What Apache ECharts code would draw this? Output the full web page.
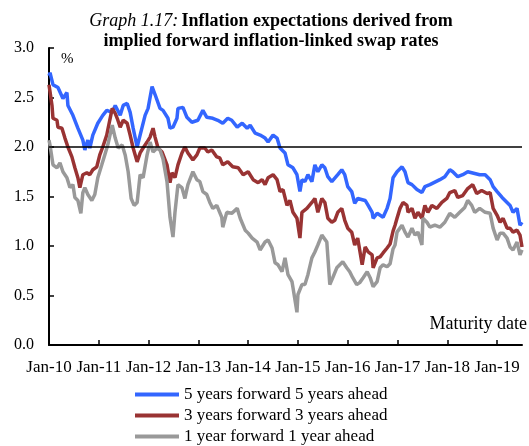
<!DOCTYPE html>
<html>
<head>
<meta charset="utf-8">
<script src="https://cdn.jsdelivr.net/npm/echarts@6/dist/echarts.min.js"></script>
<style>
  html, body { margin: 0; padding: 0; background: #fff; }
  #chart { width: 529px; height: 446px; }
</style>
</head>
<body>
<div id="chart"></div>
<script>
// maturity dates as decimal years, values in %
const blueYears = [2010.00, 2010.02, 2010.08, 2010.18, 2010.28, 2010.36, 2010.38, 2010.48, 2010.58, 2010.68, 2010.72, 2010.78, 2010.82, 2010.88, 2010.98,
  2011.08, 2011.16, 2011.27, 2011.33, 2011.43, 2011.49, 2011.57, 2011.63, 2011.69, 2011.77, 2011.83, 2011.93, 2011.99,
  2012.07, 2012.13, 2012.23, 2012.29, 2012.39, 2012.43, 2012.49, 2012.57, 2012.59, 2012.69, 2012.77, 2012.87, 2012.99,
  2013.09, 2013.17, 2013.29, 2013.39, 2013.49, 2013.59, 2013.67, 2013.78, 2013.88, 2013.98,
  2014.04, 2014.14, 2014.24, 2014.34, 2014.40, 2014.50, 2014.58, 2014.64, 2014.74, 2014.80, 2014.90, 2014.98,
  2015.04, 2015.08, 2015.14, 2015.20, 2015.28, 2015.34, 2015.40, 2015.48, 2015.54, 2015.60, 2015.68, 2015.80, 2015.88, 2015.94,
  2016.00, 2016.08, 2016.14, 2016.20, 2016.35, 2016.41, 2016.49, 2016.51, 2016.59, 2016.71, 2016.79, 2016.85, 2016.91, 2016.99,
  2017.09, 2017.15, 2017.21, 2017.29, 2017.39, 2017.49, 2017.55, 2017.65, 2017.85, 2017.95,
  2018.05, 2018.11, 2018.21, 2018.31, 2018.41, 2018.65, 2018.76, 2018.86, 2018.92,
  2019.00, 2019.10, 2019.20, 2019.26, 2019.32, 2019.40, 2019.46, 2019.50];
const blueValues = [2.72, 2.75, 2.63, 2.60, 2.49, 2.55, 2.42, 2.32, 2.19, 2.07, 1.97, 2.07, 1.99, 2.12, 2.24,
  2.32, 2.37, 2.35, 2.42, 2.32, 2.42, 2.44, 2.35, 2.19, 2.00, 2.12, 2.32, 2.39,
  2.61, 2.53, 2.39, 2.37, 2.29, 2.19, 2.20, 2.29, 2.39, 2.40, 2.30, 2.25, 2.27,
  2.37, 2.30, 2.29, 2.27, 2.24, 2.29, 2.27, 2.20, 2.24, 2.19,
  2.22, 2.14, 2.12, 2.09, 2.05, 2.12, 2.09, 1.99, 1.94, 1.82, 1.79, 1.72,
  1.55, 1.67, 1.65, 1.72, 1.65, 1.82, 1.75, 1.82, 1.79, 1.70, 1.65, 1.72, 1.77, 1.72,
  1.60, 1.55, 1.43, 1.48, 1.46, 1.41, 1.34, 1.28, 1.33, 1.29, 1.38, 1.48, 1.69, 1.75,
  1.80, 1.75, 1.64, 1.62, 1.57, 1.54, 1.60, 1.62, 1.67, 1.70,
  1.77, 1.75, 1.70, 1.72, 1.75, 1.72, 1.72, 1.67, 1.60,
  1.55, 1.49, 1.44, 1.41, 1.34, 1.38, 1.21, 1.24];

const redYears = [2010.00, 2010.02, 2010.06, 2010.08, 2010.16, 2010.18, 2010.26, 2010.32, 2010.38, 2010.46, 2010.52, 2010.58, 2010.62, 2010.68, 2010.76, 2010.82, 2010.88, 2010.96,
  2011.02, 2011.08, 2011.16, 2011.22, 2011.27, 2011.33, 2011.37, 2011.43, 2011.49, 2011.57, 2011.63, 2011.69, 2011.77, 2011.83, 2011.89, 2011.97,
  2012.03, 2012.09, 2012.13, 2012.19, 2012.27, 2012.29, 2012.37, 2012.43, 2012.47, 2012.53, 2012.59, 2012.67, 2012.73, 2012.79, 2012.89, 2012.97,
  2013.03, 2013.13, 2013.19, 2013.27, 2013.37, 2013.43, 2013.49, 2013.59, 2013.69, 2013.80, 2013.90,
  2014.00, 2014.10, 2014.20, 2014.28, 2014.34, 2014.40, 2014.50, 2014.58, 2014.64, 2014.70, 2014.78, 2014.84, 2014.90, 2014.98,
  2015.04, 2015.08, 2015.18, 2015.28, 2015.34, 2015.40, 2015.48, 2015.54, 2015.60, 2015.68, 2015.74, 2015.80, 2015.88, 2015.94,
  2016.00, 2016.08, 2016.14, 2016.20, 2016.29, 2016.35, 2016.41, 2016.49, 2016.51, 2016.59, 2016.65, 2016.71, 2016.79, 2016.85, 2016.91, 2016.95, 2016.99,
  2017.05, 2017.11, 2017.19, 2017.21, 2017.29, 2017.35, 2017.41, 2017.49, 2017.55, 2017.61, 2017.69, 2017.79, 2017.89, 2017.99,
  2018.05, 2018.15, 2018.21, 2018.31, 2018.41, 2018.51, 2018.59, 2018.69, 2018.80, 2018.86, 2018.92,
  2019.00, 2019.06, 2019.12, 2019.20, 2019.26, 2019.32, 2019.40, 2019.46, 2019.50];
const redValues = [2.63, 2.56, 2.42, 2.29, 2.27, 2.20, 2.19, 2.09, 2.00, 1.90, 1.79, 1.69, 1.59, 1.72, 1.74, 1.72, 1.77, 1.80,
  1.92, 2.00, 2.12, 2.27, 2.39, 2.34, 2.29, 2.20, 2.27, 2.24, 2.12, 1.99, 1.85, 1.94, 1.99, 2.05,
  2.10, 2.19, 2.10, 1.99, 1.95, 1.94, 1.82, 1.64, 1.74, 1.69, 1.82, 1.94, 2.00, 1.94, 1.87, 1.92,
  1.99, 1.99, 1.95, 1.97, 1.90, 1.89, 1.82, 1.85, 1.80, 1.79, 1.72,
  1.75, 1.67, 1.64, 1.67, 1.62, 1.69, 1.72, 1.67, 1.55, 1.57, 1.41, 1.46, 1.34, 1.28,
  1.08, 1.34, 1.38, 1.44, 1.48, 1.34, 1.48, 1.44, 1.28, 1.24, 1.26, 1.34, 1.38, 1.26,
  1.18, 1.14, 1.01, 1.08, 0.81, 0.99, 0.94, 0.91, 0.78, 0.88, 0.89, 0.93, 0.98, 1.02, 1.15, 1.21, 1.28,
  1.38, 1.44, 1.41, 1.34, 1.38, 1.28, 1.34, 1.28, 1.41, 1.34, 1.41, 1.38, 1.44, 1.48,
  1.54, 1.56, 1.49, 1.51, 1.58, 1.62, 1.53, 1.56, 1.53, 1.54, 1.38,
  1.31, 1.24, 1.28, 1.18, 1.18, 1.14, 1.16, 1.11, 0.99];

const grayYears = [2010.00, 2010.02, 2010.08, 2010.16, 2010.22, 2010.28, 2010.36, 2010.42, 2010.48, 2010.52, 2010.58, 2010.64, 2010.68, 2010.72, 2010.78, 2010.86, 2010.92, 2010.98,
  2011.06, 2011.12, 2011.18, 2011.27, 2011.33, 2011.39, 2011.47, 2011.53, 2011.59, 2011.65, 2011.71, 2011.77, 2011.83, 2011.89, 2011.97,
  2012.03, 2012.09, 2012.17, 2012.23, 2012.29, 2012.37, 2012.43, 2012.49, 2012.53, 2012.59, 2012.67, 2012.73, 2012.79, 2012.89, 2012.97,
  2013.03, 2013.09, 2013.17, 2013.23, 2013.29, 2013.37, 2013.47, 2013.49, 2013.57, 2013.67, 2013.78, 2013.84, 2013.94,
  2014.00, 2014.08, 2014.18, 2014.24, 2014.34, 2014.40, 2014.48, 2014.54, 2014.60, 2014.68, 2014.74, 2014.80, 2014.88, 2014.90, 2014.98,
  2015.00, 2015.08, 2015.14, 2015.20, 2015.28, 2015.34, 2015.40, 2015.48, 2015.52, 2015.58, 2015.64, 2015.70, 2015.78, 2015.84, 2015.90, 2015.98,
  2016.04, 2016.10, 2016.18, 2016.24, 2016.31, 2016.39, 2016.45, 2016.51, 2016.59, 2016.65, 2016.71, 2016.79, 2016.85, 2016.91, 2016.95, 2016.99,
  2017.09, 2017.15, 2017.21, 2017.29, 2017.35, 2017.41, 2017.49, 2017.51, 2017.59, 2017.65, 2017.75, 2017.85, 2017.95,
  2018.05, 2018.15, 2018.25, 2018.35, 2018.41, 2018.49, 2018.55, 2018.65, 2018.76, 2018.86, 2018.92,
  2019.00, 2019.06, 2019.12, 2019.20, 2019.26, 2019.32, 2019.40, 2019.46, 2019.50];
const grayValues = [2.07, 2.02, 1.82, 1.79, 1.84, 1.75, 1.69, 1.59, 1.62, 1.49, 1.46, 1.33, 1.54, 1.59, 1.52, 1.46, 1.52, 1.69,
  1.82, 1.92, 2.02, 2.22, 2.09, 1.99, 2.02, 1.92, 1.75, 1.48, 1.41, 1.44, 1.72, 1.69, 1.92,
  2.05, 1.95, 1.99, 1.97, 1.88, 1.65, 1.29, 1.09, 1.34, 1.62, 1.59, 1.48, 1.62, 1.75, 1.67,
  1.65, 1.55, 1.52, 1.44, 1.38, 1.41, 1.29, 1.19, 1.34, 1.33, 1.38, 1.28, 1.16,
  1.13, 1.08, 1.04, 0.96, 1.04, 1.06, 0.98, 0.83, 0.81, 0.74, 0.88, 0.71, 0.64, 0.58, 0.33,
  0.51, 0.61, 0.61, 0.71, 0.88, 0.94, 1.01, 1.11, 1.13, 1.04, 0.61, 0.68, 0.78, 0.81, 0.84, 0.78,
  0.74, 0.68, 0.61, 0.63, 0.68, 0.74, 0.68, 0.59, 0.64, 0.78, 0.81, 0.79, 0.82, 0.97, 1.01, 1.14,
  1.21, 1.14, 1.09, 1.18, 1.11, 1.14, 1.01, 1.28, 1.24, 1.19, 1.21, 1.19, 1.24,
  1.33, 1.29, 1.34, 1.39, 1.46, 1.41, 1.34, 1.38, 1.34, 1.33, 1.18,
  1.06, 1.13, 1.13, 1.08, 0.99, 0.96, 1.04, 0.91, 0.96];

const seriesNames = ['5 years forward 5 years ahead', '3 years forward 3 years ahead', '1 year forward 1 year ahead'];
const tickYears = [2010, 2011, 2012, 2013, 2014, 2015, 2016, 2017, 2018, 2019];

const pairs = (xs, ys) => xs.map((x, i) => [x, ys[i]]);
const serif = '"Liberation Serif", "Times New Roman", serif';

const chart = echarts.init(document.getElementById('chart'));

const line = (name, color, data) => ({
  name,
  type: 'line',
  data,
  showSymbol: false,
  animation: false,
  lineStyle: { color, width: 3.5 },
  itemStyle: { color },
});

chart.setOption({
  backgroundColor: '#fff',
  animation: false,
  grid: { left: 49, right: 7, top: 48, bottom: 101 },
  xAxis: {
    type: 'value',
    min: 2010,
    max: 2019.5,
    interval: 1,
    splitLine: { show: false },
    axisLine: { lineStyle: { color: '#000', width: 2 } },
    axisTick: { inside: true, length: 5, customValues: tickYears, lineStyle: { color: '#000', width: 1.5 } },
    axisLabel: {
      customValues: tickYears,
      formatter: (v) => 'Jan-' + String(v - 2000).padStart(2, '0'),
      color: '#000', fontFamily: serif, fontSize: 17, margin: 14,
    },
  },
  yAxis: {
    type: 'value',
    min: 0,
    max: 3,
    interval: 0.5,
    splitLine: { show: false },
    axisLine: { show: true, lineStyle: { color: '#000', width: 2 } },
    axisTick: { show: true, inside: true, length: 5, lineStyle: { color: '#000', width: 1.5 } },
    axisLabel: {
      formatter: (v) => v.toFixed(1),
      color: '#000', fontFamily: serif, fontSize: 16, margin: 15,
    },
  },
  legend: {
    orient: 'vertical',
    left: 135,
    top: 386,
    height: 80,
    padding: 0,
    itemWidth: 44,
    itemHeight: 4,
    itemGap: 4,
    icon: 'rect',
    data: seriesNames,
    textStyle: { color: '#000', fontFamily: serif, fontSize: 17, lineHeight: 17 },
  },
  graphic: [
    {
      type: 'text', x: 271, y: 11,
      style: {
        text: '{i|Graph 1.17:} {b|Inflation expectations derived from}\n{b|implied forward inflation-linked swap rates}',
        align: 'center', verticalAlign: 'top',
        rich: {
          i: { fontFamily: serif, fontStyle: 'italic', fontSize: 18, lineHeight: 20, fill: '#000' },
          b: { fontFamily: serif, fontWeight: 'bold', fontSize: 18, lineHeight: 20, fill: '#000' },
        },
      },
    },
    { type: 'text', x: 61, y: 52, style: { text: '%', font: '15px ' + serif, fill: '#000' } },
    { type: 'text', x: 527, y: 315, style: { text: 'Maturity date', font: '18px ' + serif, fill: '#000', align: 'right' } },
  ],
  series: [
    line(seriesNames[0], '#3366FF', pairs(blueYears, blueValues)),
    line(seriesNames[1], '#993333', pairs(redYears, redValues)),
    Object.assign(line(seriesNames[2], '#999999', pairs(grayYears, grayValues)), {
      markLine: {
        silent: true,
        symbol: 'none',
        label: { show: false },
        lineStyle: { color: '#000', width: 1.5, type: 'solid' },
        data: [{ yAxis: 2 }],
      },
    }),
  ],
});
</script>
</body>
</html>
